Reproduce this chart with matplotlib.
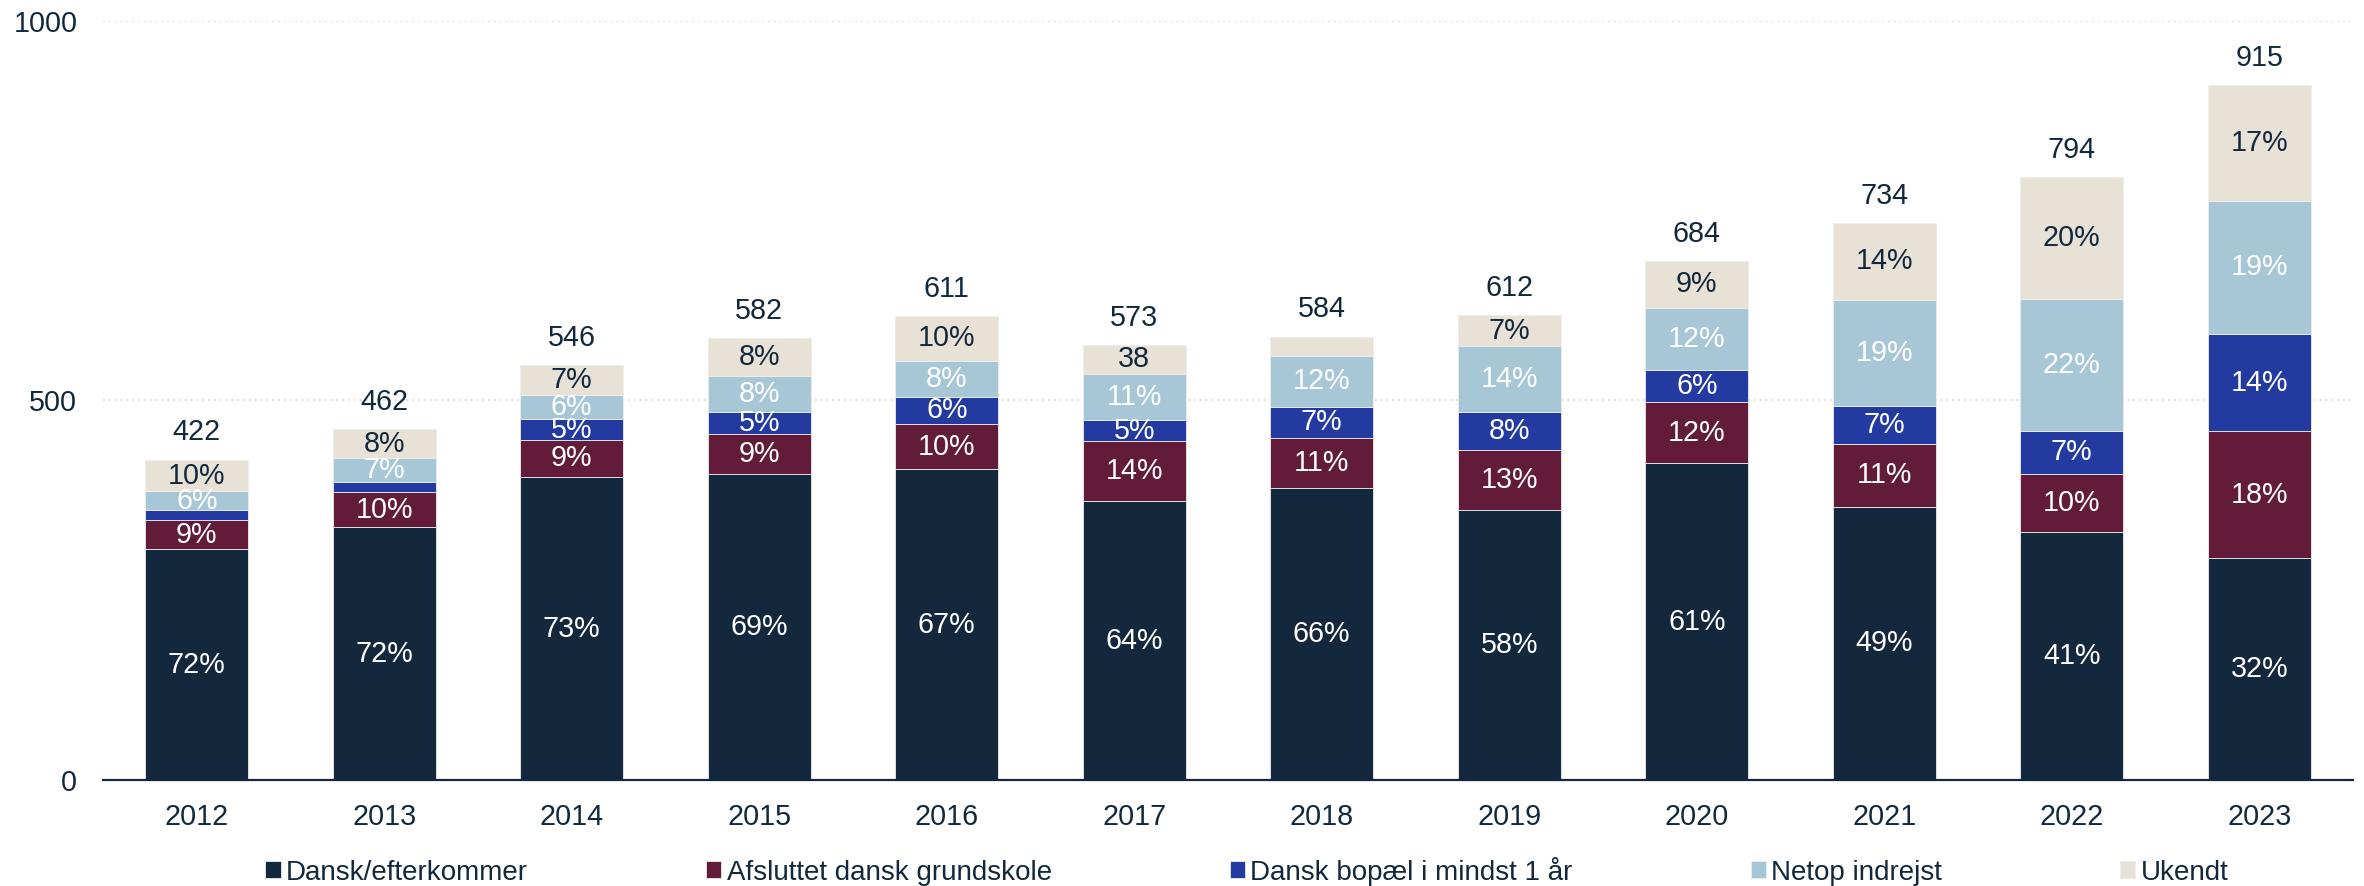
import matplotlib
matplotlib.use("Agg")
import matplotlib.pyplot as plt
import numpy as np

plt.rcParams['font.family'] = ['Liberation Sans', 'DejaVu Sans']

years = ['2012', '2013', '2014', '2015', '2016', '2017', '2018', '2019', '2020', '2021', '2022', '2023']
series_names = ['Dansk/efterkommer', 'Afsluttet dansk grundskole', 'Dansk bopæl i mindst 1 år',
                'Netop indrejst', 'Ukendt']

dansk = [304, 333, 399, 403, 409, 367, 385, 356, 417, 360, 326, 293]
grundskole = [38, 46, 49, 53, 60, 79, 66, 79, 81, 83, 77, 166]
bopael = [13, 14, 27, 29, 36, 28, 40, 50, 42, 50, 57, 129]
indrejst = [25, 31, 32, 47, 47, 61, 68, 86, 82, 139, 174, 175]
ukendt = [42, 38, 39, 50, 59, 38, 25, 41, 62, 102, 160, 152]

totals = [422, 462, 546, 582, 611, 573, 584, 612, 684, 734, 794, 915]

lbl_dansk = ['72%', '72%', '73%', '69%', '67%', '64%', '66%', '58%', '61%', '49%', '41%', '32%']
lbl_grundskole = ['9%', '10%', '9%', '9%', '10%', '14%', '11%', '13%', '12%', '11%', '10%', '18%']
lbl_bopael = ['', '', '5%', '5%', '6%', '5%', '7%', '8%', '6%', '7%', '7%', '14%']
lbl_indrejst = ['6%', '7%', '6%', '8%', '8%', '11%', '12%', '14%', '12%', '19%', '22%', '19%']
lbl_ukendt = ['10%', '8%', '7%', '8%', '10%', '38', '', '7%', '9%', '14%', '20%', '17%']

yticks = [0, 500, 1000]

colors = ['#13283D', '#621C3A', '#233BA0', '#A7C7D6', '#E7E1D6']
label_colors = ['white', 'white', 'white', 'white', '#13283D']
text_color = '#13283D'
fs = 20.7

fig = plt.figure(figsize=(23.64, 8.86), dpi=100)
ax = fig.add_axes([103 / 2364, 1 - 780 / 886, (2353 - 103) / 2364, (780 - 20.7) / 886])

data = [dansk, grundskole, bopael, indrejst, ukendt]
labels = [lbl_dansk, lbl_grundskole, lbl_bopael, lbl_indrejst, lbl_ukendt]
x = np.arange(len(years))
bottom = np.zeros(len(years))
handles = []
for vals, col, lcol, lbls, name in zip(data, colors, label_colors, labels, series_names):
    vals = np.array(vals, dtype=float)
    bars = ax.bar(x, vals, width=0.55, bottom=bottom, color=col, edgecolor='#EDEDED',
                  linewidth=0.6, label=name, zorder=3)
    handles.append(bars)
    for xi, b, v, t in zip(x, bottom, vals, lbls):
        if t:
            ax.text(xi, b + v / 2, t, ha='center', va='center', fontsize=fs, color=lcol, zorder=4)
    bottom += vals

for xi, top, t in zip(x, bottom, totals):
    ax.annotate(str(t), (xi, top), xytext=(0, 19.5), textcoords='offset points',
                ha='center', va='center', fontsize=fs, color=text_color)

ax.set_xlim(-0.5, 11.5)
ax.set_ylim(0, 1000)
ax.set_xticks(x)
ax.set_xticklabels(years)
ax.set_yticks(yticks)
ax.tick_params(axis='both', length=0, labelsize=fs, colors=text_color)
ax.tick_params(axis='x', pad=16.5)
ax.tick_params(axis='y', pad=18.5)
for s in ['top', 'right', 'left']:
    ax.spines[s].set_visible(False)
ax.spines['bottom'].set_color(text_color)
ax.spines['bottom'].set_linewidth(1.6)
ax.spines['bottom'].set_zorder(5)
for yv in yticks[1:]:
    ax.axhline(yv, color='#E3DCCB', linestyle=(0, (1, 2)), linewidth=1.4, zorder=1)

leg = fig.legend(handles=handles, labels=series_names, ncol=5, loc='center',
                 bbox_to_anchor=(1247 / 2364, 1 - 871 / 886), frameon=False,
                 fontsize=20, handlelength=0.55, handleheight=0.55, handletextpad=0.2,
                 columnspacing=6.4, borderpad=0, borderaxespad=0)
for t in leg.get_texts():
    t.set_color(text_color)

fig.savefig('out.png', dpi=100)
